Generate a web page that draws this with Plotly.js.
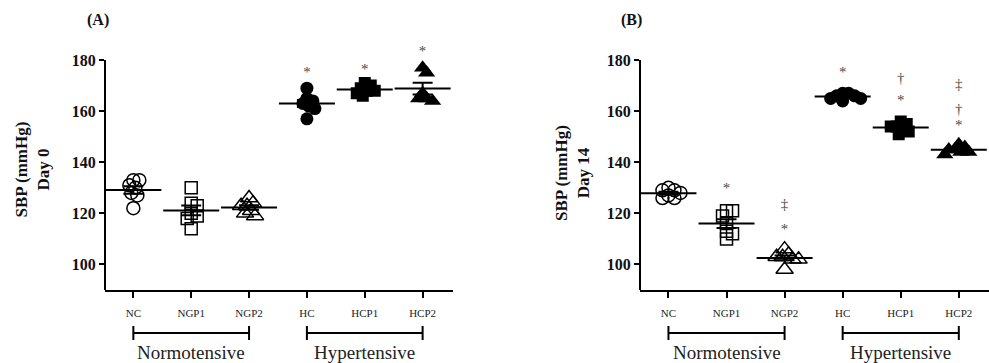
<!DOCTYPE html>
<html><head><meta charset="utf-8">
<script src="https://cdn.plot.ly/plotly-3.0.1.min.js"></script>
<style>html,body{margin:0;padding:0;background:#fff}</style>
</head><body><div id="chart" style="width:989px;height:363px"></div>
<script>
// ---------- DATA ----------
const categories = ['NC','NGP1','NGP2','HC','HCP1','HCP2'];
const groupNames = ['Normotensive','Hypertensive'];
const groupFirst = [0,3];
const groupLast  = [2,5];

// Panel A: SBP (mmHg), Day 0
const day0_NC   = [133,133,131,130,128,127,122];
const day0_NGP1 = [130,124,123,120,119,118,114];
const day0_NGP2 = [126,124,123,123,121,120,119];
const day0_HC   = [169,165,164,163,162,161,157];
const day0_HCP1 = [171,170,169,168,168,167,166];
const day0_HCP2 = [177,175,167,165,165,164];

// Panel B: SBP (mmHg), Day 14
const day14_NC   = [130,129,129,128,127,126,126];
const day14_NGP1 = [121,121,119,116,113,112,110];
const day14_NGP2 = [106,104,103,103,102,102,98];
const day14_HC   = [167,167,166,166,165,165,164];
const day14_HCP1 = [156,155,154,154,153,152,151];
const day14_HCP2 = [147,146,145,145,144,144,143];

// significance marks (category index, label, level)
const sigA_cat  = [3,4,5];
const sigA_text = ['*','*','*'];
const sigA_y    = [175,176,183];
const sigB_cat  = [1,2,2,3,4,4,5,5,5];
const sigB_text = ['*','‡','*','*','†','*','‡','†','*'];
const sigB_y    = [129.5,123,113.3,175,172.5,164,170.3,160.2,154];

// ---------- STYLE / LAYOUT ----------
const W = 989, H = 363;
const serif = 'Liberation Serif, Times New Roman, serif';
const symbols = ['circle-open','square-open','triangle-up-open','circle','square','triangle-up'];
const sizes   = [13,12,15,13,12,15];
const xRange = [-0.49, 5.52];
const yRange = [90, 192];
const yDom = [73/H, 333.6/H];
const xDomA = [105/W, 452.7/W];
const xDomB = [640/W, 989/W];

function swarm(vals, pxY, pxX, minDist, step){
  const order = vals.map((v,i)=>i).sort((a,b)=>vals[b]-vals[a]);
  const placed = []; const off = new Array(vals.length).fill(0);
  for (const i of order){
    const y = vals[i]*pxY;
    for (let k=0;k<80;k++){
      const c = k===0?0:(k%2?1:-1)*Math.ceil(k/2)*step;
      if (placed.every(p=>Math.hypot(p.x-c,p.y-y)>=minDist)){ off[i]=c; placed.push({x:c,y:y}); break; }
    }
  }
  return off.map(o=>o/pxX);
}
function mean(a){return a.reduce((s,v)=>s+v,0)/a.length;}
function sem(a){const m=mean(a);const v=a.reduce((s,x)=>s+(x-m)*(x-m),0)/(a.length-1);return Math.sqrt(v/a.length);}

const pxY = (yDom[1]-yDom[0])*H/(yRange[1]-yRange[0]);
function panelTraces(groups, xa, ya, xDom, sigCat, sigText, sigY){
  const pxX = (xDom[1]-xDom[0])*W/(xRange[1]-xRange[0]);
  const tr = [];
  groups.forEach((vals,ci)=>{
    const off = swarm(vals, pxY, pxX, 5.5, 2);
    tr.push({type:'scatter', mode:'markers', xaxis:xa, yaxis:ya, hoverinfo:'skip',
      x: vals.map((v,i)=>ci+off[i]), y: vals,
      marker:{symbol:symbols[ci], size:sizes[ci], color:'#000', line:{color:'#000', width: ci<3?1.5:0}}});
  });
  tr.push({type:'scatter', mode:'markers', xaxis:xa, yaxis:ya, hoverinfo:'skip',
    x: groups.map((g,i)=>i), y: groups.map(mean),
    marker:{symbol:'line-ew', size:40, color:'#000', line:{color:'#000', width:2}},
    error_y:{type:'data', array: groups.map(sem), visible:true, color:'#000', thickness:2, width:10}});
  tr.push({type:'scatter', mode:'text', xaxis:xa, yaxis:ya, hoverinfo:'skip',
    x: sigCat, y: sigY, text: sigText, textposition:'middle center',
    textfont:{family:serif, size:15, color:'#4a4a4a'}});
  return tr;
}

const data = [].concat(
  panelTraces([day0_NC,day0_NGP1,day0_NGP2,day0_HC,day0_HCP1,day0_HCP2],'x','y',xDomA,sigA_cat,sigA_text,sigA_y),
  panelTraces([day14_NC,day14_NGP1,day14_NGP2,day14_HC,day14_HCP1,day14_HCP2],'x2','y2',xDomB,sigB_cat,sigB_text,sigB_y)
);

function xax(dom, anchor){
  return {domain:dom, anchor:anchor, range:xRange, tickvals:categories.map((c,i)=>i), ticktext:categories,
    showline:true, linewidth:2, linecolor:'#000', ticks:'outside', ticklen:6, tickwidth:2, tickcolor:'#000',
    showgrid:false, zeroline:false, ticklabelstandoff:6,
    tickfont:{family:serif, size:11, color:'#222'}, fixedrange:true};
}
function yax(anchor){
  return {domain:yDom, anchor:anchor, range:yRange, tickvals:[100,120,140,160,180],
    showline:false, ticks:'outside', ticklen:5, tickwidth:2, tickcolor:'#000',
    showgrid:false, zeroline:false, tickfont:{family:serif, size:16, color:'#111', weight:'bold'}, fixedrange:true};
}

const shapes = [];
const annotations = [];
[['x','y'],['x2','y2']].forEach(([xa,ya])=>{
  shapes.push({type:'line', xref:xa+' domain', yref:ya, x0:0, x1:0, y0:yRange[0], y1:180, line:{color:'#000', width:2}});
  groupNames.forEach((g,gi)=>{
    const yb = 30/H;
    shapes.push({type:'line', xref:xa, yref:'paper', x0:groupFirst[gi], x1:groupLast[gi], y0:yb, y1:yb, line:{color:'#000', width:2}});
    [groupFirst[gi],groupLast[gi]].forEach(xe=>shapes.push({type:'line', xref:xa, yref:'paper', x0:xe, x1:xe, y0:yb-7/H, y1:yb+7/H, line:{color:'#000', width:2}}));
    annotations.push({xref:xa, yref:'paper', x:(groupFirst[gi]+groupLast[gi])/2, y:11/H, text:g, showarrow:false,
      xanchor:'center', yanchor:'middle', font:{family:serif, size:19, color:'#222'}});
  });
});
annotations.push({xref:'paper', yref:'paper', x:97.7/W, y:(H-20)/H, text:'(A)', showarrow:false, xanchor:'center', yanchor:'middle', font:{family:serif, size:16, color:'#111', weight:'bold'}});
annotations.push({xref:'paper', yref:'paper', x:631.7/W, y:(H-20)/H, text:'(B)', showarrow:false, xanchor:'center', yanchor:'middle', font:{family:serif, size:16, color:'#111', weight:'bold'}});
annotations.push({xref:'paper', yref:'paper', x:32.5/W, y:(H-170)/H, text:'SBP (mmHg)<br>Day 0', textangle:-90, showarrow:false, xanchor:'center', yanchor:'middle', font:{family:serif, size:17, color:'#111', weight:'bold'}});
annotations.push({xref:'paper', yref:'paper', x:572/W, y:(H-173)/H, text:'SBP (mmHg)<br>Day 14', textangle:-90, showarrow:false, xanchor:'center', yanchor:'middle', font:{family:serif, size:17, color:'#111', weight:'bold'}});

const layout = {width:W, height:H, margin:{l:0,r:0,t:0,b:0}, paper_bgcolor:'#fff', plot_bgcolor:'rgba(0,0,0,0)',
  showlegend:false, xaxis:xax(xDomA,'y'), yaxis:yax('x'), xaxis2:xax(xDomB,'y2'), yaxis2:yax('x2'),
  shapes:shapes, annotations:annotations};
Plotly.newPlot('chart', data, layout, {staticPlot:true, displayModeBar:false});
</script></body></html>
